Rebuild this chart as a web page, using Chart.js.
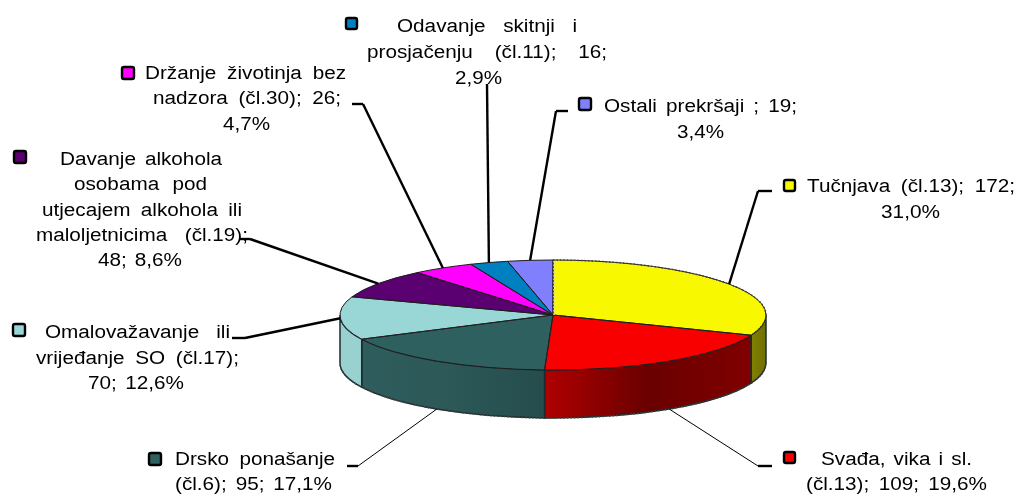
<!DOCTYPE html>
<html>
<head>
<meta charset="utf-8">
<title>Prekršaji</title>
<script src="https://cdn.jsdelivr.net/npm/chart.js@4"></script>
<style>
  html, body { margin: 0; padding: 0; background: #fff; }
  canvas { display: block; }
</style>
</head>
<body>
<canvas id="chart-prekrsaji" width="1017" height="494"></canvas>
<script>
const categories = [
  'Tučnjava (čl.13)',
  'Svađa, vika i sl. (čl.13)',
  'Drsko ponašanje (čl.6)',
  'Omalovažavanje ili vrijeđanje SO (čl.17)',
  'Davanje alkohola osobama pod utjecajem alkohola ili maloljetnicima (čl.19)',
  'Držanje životinja bez nadzora (čl.30)',
  'Odavanje skitnji i prosjačenju (čl.11)',
  'Ostali prekršaji'
];
const values = [172, 109, 95, 70, 48, 26, 16, 19];
const topColors = ['#f8f800', '#f80000', '#2f6060', '#99d6d6', '#5a0070', '#ff00ff', '#0080c0', '#8080ff'];

// side wall of the pie, left to right
const wallColors = [
  ['#808000', '#707000'],
  ['#b00000', '#6a0000', '#800000'],
  ['#2f5c5c', '#2c5858', '#264c4c'],
  ['#99d0d0', '#99d0d0'],
  ['#400050'], ['#b000b0'], ['#005a88'], ['#5a5ab0']
];

// label text per slice, with the line breaks of the picture
const labelLines = [
  ['Tučnjava (čl.13); 172;', '31,0%'],
  ['Svađa, vika i sl.', '(čl.13); 109; 19,6%'],
  ['Drsko ponašanje', '(čl.6); 95; 17,1%'],
  ['Omalovažavanje ili', 'vrijeđanje SO (čl.17);', '70; 12,6%'],
  ['Davanje alkohola', 'osobama pod', 'utjecajem alkohola ili', 'maloljetnicima (čl.19);', '48; 8,6%'],
  ['Držanje životinja bez', 'nadzora (čl.30); 26;', '4,7%'],
  ['Odavanje skitnji i', 'prosjačenju (čl.11); 16;', '2,9%'],
  ['Ostali prekršaji ; 19;', '3,4%']
];

// page layout of the labels: line extents [x0, x1, y], key box, leader elbow
const labelBoxes = [
  { lines: [[807, 1015, 187], [881, 940, 213]], key: [783, 179, 13], elbow: [[772, 191], [758, 191]], thin: false },
  { lines: [[821, 972, 460], [806, 987, 485]], key: [783, 451, 13], elbow: [[772, 466], [758, 466]], thin: true },
  { lines: [[175, 335, 460], [175, 332, 485]], key: [148, 452, 14], elbow: [[347, 466], [358, 466]], thin: true },
  { lines: [[45, 230, 333], [36, 239, 359], [88, 184, 384]], key: [12, 323, 14], elbow: [[232, 338], [245, 338]], thin: false },
  { lines: [[60, 222, 160], [74, 207, 185], [42, 242, 211], [36, 248, 236], [98, 182, 261]], key: [13, 150, 14], elbow: [[240, 239], [250, 239]], thin: false },
  { lines: [[145, 346, 74], [153, 341, 99], [223, 270, 125]], key: [121, 66, 14], elbow: [[352, 104], [363, 104]], thin: false },
  { lines: [[397, 577, 27], [367, 607, 53], [455, 502, 79]], key: [345, 17, 13], elbow: [[487, 84]], thin: false },
  { lines: [[604, 797, 107], [677, 724, 133]], key: [578, 97, 14], elbow: [[568, 111], [556, 111]], thin: false }
];

const pieCenter = { x: 553, y: 315 };
const squash = 55 / 213;
const depth = 48;
const textStretch = 1.15;

// top face angle -> page position
const facePoint = (arc, angle) => ({
  x: pieCenter.x + arc.outerRadius * Math.cos(angle),
  y: pieCenter.y + arc.outerRadius * squash * Math.sin(angle)
});

const drawWalls = (ctx, arcs) => {
  arcs.forEach((arc, i) => {
    const lo = Math.max(arc.startAngle, 0);
    const hi = Math.min(arc.endAngle, Math.PI);
    if (hi <= lo) return;
    const rx = arc.outerRadius, ry = rx * squash;
    const stops = wallColors[i];
    const xa = facePoint(arc, hi).x, xb = facePoint(arc, lo).x;
    const grad = ctx.createLinearGradient(xa, 0, xb, 0);
    stops.forEach((c, k) => grad.addColorStop(stops.length > 1 ? k / (stops.length - 1) : 0, c));

    ctx.beginPath();
    ctx.ellipse(pieCenter.x, pieCenter.y, rx, ry, 0, lo, hi);
    ctx.ellipse(pieCenter.x, pieCenter.y + depth, rx, ry, 0, hi, lo, true);
    ctx.closePath();
    ctx.fillStyle = grad;
    ctx.fill();
    ctx.strokeStyle = '#1c2c2c';
    ctx.lineWidth = 1.5;
    ctx.stroke();
  });
};

const drawFaceEdges = (ctx, arcs) => {
  arcs.forEach((arc) => {
    const rx = arc.outerRadius, ry = rx * squash;
    ctx.beginPath();
    ctx.moveTo(pieCenter.x, pieCenter.y);
    ctx.ellipse(pieCenter.x, pieCenter.y, rx, ry, 0, arc.startAngle, arc.endAngle);
    ctx.closePath();
    ctx.strokeStyle = '#201c20';
    ctx.lineWidth = 1;
    ctx.stroke();
  });

  // dotted rim of the picture, around the first slice and the wall bottom
  const yellow = arcs[0], rx = yellow.outerRadius, ry = rx * squash;
  ctx.save();
  ctx.setLineDash([1.5, 2]);
  ctx.lineWidth = 1.5;
  ctx.strokeStyle = '#d8d8d8';
  ctx.beginPath();
  ctx.moveTo(pieCenter.x + 1, pieCenter.y);
  ctx.lineTo(pieCenter.x + 1, pieCenter.y - ry);
  ctx.stroke();
  ctx.strokeStyle = '#444';
  ctx.beginPath();
  ctx.ellipse(pieCenter.x, pieCenter.y, rx, ry, 0, yellow.startAngle, Math.max(yellow.endAngle, 0));
  ctx.stroke();
  ctx.beginPath();
  ctx.ellipse(pieCenter.x, pieCenter.y + depth, rx, ry, 0, 0, Math.PI);
  ctx.stroke();
  ctx.restore();
};

const drawLeader = (ctx, arc, box) => {
  const mid = (arc.startAngle + arc.endAngle) / 2;
  const end = facePoint(arc, mid);
  // front slices hang their leader from the bottom of the wall
  if (Math.sin(mid) > 0.5) end.y += depth;
  ctx.beginPath();
  ctx.strokeStyle = '#000';
  ctx.lineWidth = box.thin ? 1 : 2.4;
  ctx.moveTo(box.elbow[box.elbow.length - 1][0], box.elbow[box.elbow.length - 1][1]);
  ctx.lineTo(end.x, end.y);
  ctx.stroke();
  if (box.elbow.length > 1) {
    ctx.beginPath();
    ctx.lineWidth = 2.4;
    ctx.moveTo(box.elbow[0][0], box.elbow[0][1]);
    ctx.lineTo(box.elbow[1][0], box.elbow[1][1]);
    ctx.stroke();
  }
};

const drawKey = (ctx, box, color) => {
  const [x, y, s] = box.key;
  ctx.beginPath();
  ctx.roundRect(x + 1, y + 1, s - 2, s - 2, 2);
  ctx.fillStyle = color;
  ctx.fill();
  ctx.strokeStyle = '#000';
  ctx.lineWidth = 2.4;
  ctx.stroke();
};

const drawLabel = (ctx, text, [x0, x1, y]) => {
  ctx.save();
  ctx.font = '18px "Liberation Sans", Arial, sans-serif';
  ctx.fillStyle = '#000';
  ctx.textBaseline = 'middle';
  ctx.textAlign = 'left';
  const gaps = text.split(' ').length - 1;
  const target = (x1 - x0) / textStretch;
  ctx.wordSpacing = '0px';
  const natural = ctx.measureText(text).width;
  if (gaps > 0) ctx.wordSpacing = ((target - natural) / gaps) + 'px';
  ctx.translate(x0, y);
  ctx.scale(gaps > 0 ? textStretch : (x1 - x0) / natural, 1);
  ctx.fillText(text, 0, 0);
  ctx.restore();
};

const pie3d = {
  id: 'pie3d',
  beforeDatasetDraw(chart, args) {
    const ctx = chart.ctx;
    const arcs = chart.getDatasetMeta(args.index).data;
    drawWalls(ctx, arcs);
    ctx.save();
    ctx.translate(pieCenter.x, pieCenter.y);
    ctx.scale(1, squash);
    ctx.translate(-arcs[0].x, -arcs[0].y);
  },
  afterDatasetDraw(chart, args) {
    const ctx = chart.ctx;
    ctx.restore();
    drawFaceEdges(ctx, chart.getDatasetMeta(args.index).data);
  },
  afterDatasetsDraw(chart) {
    const ctx = chart.ctx;
    const arcs = chart.getDatasetMeta(0).data;
    labelBoxes.forEach((box, i) => {
      drawLeader(ctx, arcs[i], box);
      drawKey(ctx, box, topColors[i]);
      labelLines[i].forEach((text, k) => drawLabel(ctx, text, box.lines[k]));
    });
  }
};

new Chart(document.getElementById('chart-prekrsaji').getContext('2d'), {
  type: 'pie',
  data: {
    labels: categories,
    datasets: [{
      data: values,
      backgroundColor: topColors,
      borderWidth: 0,
      clip: false
    }]
  },
  options: {
    responsive: false,
    animation: false,
    layout: { padding: { left: 340, right: 251, top: 34, bottom: 34 } },
    plugins: { legend: { display: false }, tooltip: { enabled: false } }
  },
  plugins: [pie3d]
});
</script>
</body>
</html>
